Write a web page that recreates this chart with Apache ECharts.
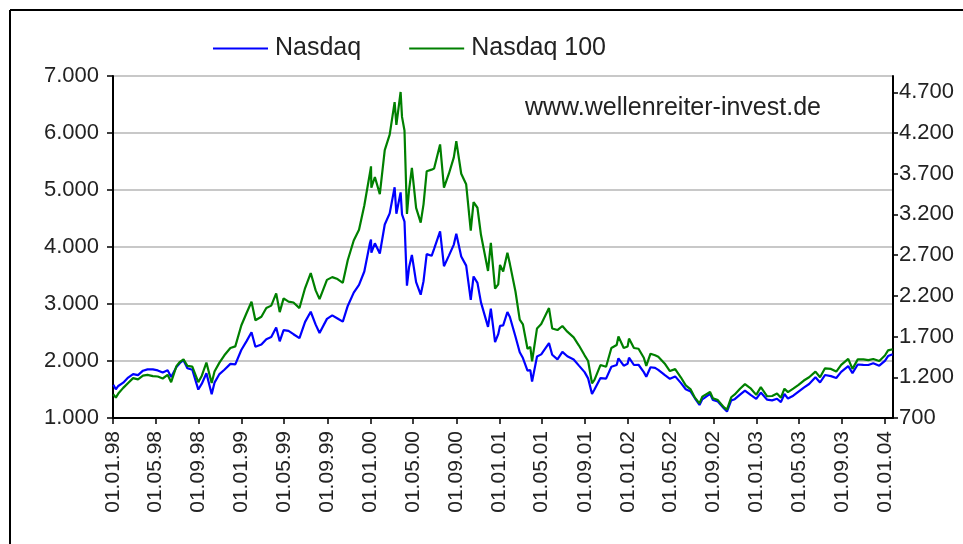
<!DOCTYPE html>
<html>
<head>
<meta charset="utf-8">
<script src="https://cdn.jsdelivr.net/npm/echarts@6/dist/echarts.min.js"></script>
<style>
  html, body { margin: 0; padding: 0; background: #fff; }
  #chart { width: 963px; height: 544px; }
</style>
</head>
<body>
<div id="chart"></div>
<script>
// Stichtage (ungefähr halbmonatlich, Extrempunkte extra)
const dates = [
  '1998-01-02','1998-01-09','1998-01-16','1998-01-30','1998-02-13','1998-02-27','1998-03-13','1998-03-27',
  '1998-04-09','1998-04-24','1998-05-08','1998-05-22','1998-06-05','1998-06-15','1998-06-30','1998-07-10',
  '1998-07-20','1998-07-31','1998-08-14','1998-08-31','1998-09-10','1998-09-23','1998-10-08','1998-10-16',
  '1998-10-30','1998-11-13','1998-11-30','1998-12-14','1998-12-31',
  '1999-01-15','1999-01-29','1999-02-09','1999-02-26','1999-03-12','1999-03-26','1999-04-09','1999-04-19',
  '1999-04-30','1999-05-14','1999-05-28','1999-06-14','1999-06-30','1999-07-16','1999-07-30','1999-08-10',
  '1999-08-31','1999-09-15','1999-09-30','1999-10-15','1999-10-29','1999-11-15','1999-11-30','1999-12-15',
  '1999-12-31',
  '2000-01-03','2000-01-04','2000-01-14','2000-01-28','2000-02-11','2000-02-25','2000-03-10','2000-03-15',
  '2000-03-27','2000-03-31','2000-04-07','2000-04-14','2000-04-20','2000-04-28','2000-05-10','2000-05-23',
  '2000-05-31','2000-06-09','2000-06-23','2000-06-30','2000-07-17','2000-07-28','2000-08-11','2000-08-25',
  '2000-09-01','2000-09-15','2000-09-29','2000-10-12','2000-10-20','2000-10-31','2000-11-10','2000-11-30',
  '2000-12-08','2000-12-20','2000-12-29',
  '2001-01-03','2001-01-12','2001-01-24','2001-01-31','2001-02-16','2001-02-28','2001-03-09','2001-03-22',
  '2001-03-30','2001-04-04','2001-04-18','2001-04-30','2001-05-22','2001-05-31','2001-06-15','2001-06-29',
  '2001-07-13','2001-07-31','2001-08-15','2001-08-31','2001-09-10','2001-09-21','2001-09-28','2001-10-15',
  '2001-10-31','2001-11-15','2001-11-30','2001-12-05','2001-12-20','2001-12-31',
  '2002-01-04','2002-01-18','2002-01-31','2002-02-15','2002-02-22','2002-03-06','2002-03-19','2002-03-28',
  '2002-04-15','2002-04-30','2002-05-15','2002-05-31','2002-06-14','2002-06-28','2002-07-10','2002-07-23',
  '2002-07-31','2002-08-22','2002-08-30','2002-09-13','2002-09-30','2002-10-09','2002-10-21','2002-10-31',
  '2002-11-15','2002-11-29','2002-12-16','2002-12-31',
  '2003-01-13','2003-01-31','2003-02-14','2003-02-28','2003-03-11','2003-03-21','2003-03-31','2003-04-15',
  '2003-04-30','2003-05-15','2003-05-30','2003-06-17','2003-06-30','2003-07-14','2003-07-31','2003-08-15',
  '2003-08-29','2003-09-18','2003-09-30','2003-10-15','2003-10-31','2003-11-14','2003-11-28','2003-12-15',
  '2003-12-31','2004-01-09','2004-01-22'
];

// Nasdaq Composite (linke Achse)
const nasdaq = [
  1581,1503,1562,1620,1710,1771,1752,1830,
  1854,1852,1835,1798,1836,1718,1895,1966,
  2014,1872,1847,1499,1602,1784,1419,1620,
  1771,1847,1950,1940,2193,
  2349,2505,2250,2288,2382,2420,2588,2345,
  2543,2528,2470,2400,2686,2864,2638,2490,
  2739,2800,2746,2690,2966,3200,3336,3570,
  4069,
  4131,3901,4064,3887,4395,4590,5048,4583,
  4958,4573,4446,3321,3643,3860,3385,3164,
  3400,3875,3845,3966,4274,3663,3849,4042,
  4234,3835,3673,3074,3483,3370,3028,2598,
  2917,2333,2471,
  2616,2626,2859,2773,2425,2152,2052,1830,
  1840,1638,2079,2116,2313,2110,2029,2161,
  2084,2027,1919,1805,1695,1423,1499,1700,
  1690,1900,1931,2046,1918,1950,
  2059,1930,1934,1805,1724,1890,1880,1845,
  1756,1688,1730,1616,1505,1463,1346,1229,
  1328,1423,1315,1291,1172,1114,1309,1330,
  1411,1479,1400,1336,
  1447,1321,1310,1338,1279,1421,1341,1391,
  1464,1534,1596,1715,1623,1754,1735,1702,
  1810,1909,1787,1939,1932,1930,1960,1918,
  2003,2087,2120
];

// Nasdaq 100 (rechte Achse)
const ndx100 = [
  990,950,1000,1070,1130,1190,1175,1220,
  1230,1215,1210,1185,1230,1140,1337,1390,
  1420,1340,1330,1140,1220,1380,1130,1270,
  1380,1470,1560,1580,1836,
  1990,2127,1900,1944,2050,2080,2230,2000,
  2169,2130,2118,2050,2296,2480,2267,2160,
  2396,2430,2406,2360,2637,2880,3013,3310,
  3708,
  3790,3529,3660,3450,3990,4180,4580,4300,
  4704,4398,4230,3207,3500,3773,3280,3100,
  3324,3730,3750,3763,4060,3530,3700,3900,
  4100,3700,3570,3000,3350,3282,2950,2506,
  2850,2290,2341,
  2580,2500,2728,2593,2250,1908,1850,1550,
  1573,1395,1800,1855,2050,1800,1780,1830,
  1760,1690,1590,1470,1400,1126,1169,1350,
  1329,1560,1597,1700,1560,1577,
  1675,1560,1550,1440,1340,1490,1470,1452,
  1370,1277,1300,1200,1100,1051,950,880,
  962,1020,943,920,832,804,955,990,
  1060,1116,1060,984,
  1080,967,970,1000,950,1060,1018,1060,
  1106,1160,1200,1270,1201,1310,1303,1270,
  1353,1426,1303,1420,1419,1410,1424,1400,
  1468,1530,1545
];

const tickLabels = [
  '01.01.98','01.05.98','01.09.98','01.01.99','01.05.99','01.09.99','01.01.00','01.05.00',
  '01.09.00','01.01.01','01.05.01','01.09.01','01.01.02','01.05.02','01.09.02','01.01.03',
  '01.05.03','01.09.03','01.01.04'
];
const rightTicks = [700, 1200, 1700, 2200, 2700, 3200, 3700, 4200, 4700];

const FONT = '"Liberation Sans", Arial, sans-serif';

function isoToTime(s) {
  const p = s.split('-').map(Number);
  return new Date(p[0], p[1] - 1, p[2]).getTime();
}
function tickToTime(s) {
  const p = s.split('.').map(Number);
  return new Date(2000 + p[2] - (p[2] > 50 ? 100 : 0), p[1] - 1, p[0]).getTime();
}
const tickTimes = tickLabels.map(tickToTime);
const times = dates.map(isoToTime);

// Tausenderpunkt
function fmtNum(v) {
  return String(v).replace(/\B(?=(\d{3})+(?!\d))/g, '.');
}

const chart = echarts.init(document.getElementById('chart'), null, { renderer: 'canvas' });

const option = {
  animation: false,
  backgroundColor: '#fff',
  textStyle: { fontFamily: FONT },
  legend: {
    left: 208,
    top: 31,
    icon: 'rect',
    itemWidth: 55,
    itemHeight: 2,
    itemGap: 48,
    textStyle: { fontSize: 25, color: '#222', fontFamily: FONT, padding: [0, 0, 0, 2] },
    data: ['Nasdaq', 'Nasdaq 100']
  },
  grid: { left: 113, right: 70, top: 76, bottom: 126 },
  xAxis: {
    type: 'value',
    min: isoToTime('1998-01-01'),
    max: isoToTime('2004-01-23'),
    axisLine: { lineStyle: { color: '#000', width: 2 } },
    axisTick: {
      show: true,
      length: 6,
      customValues: tickTimes,
      lineStyle: { color: '#000', width: 1.5 }
    },
    axisLabel: {
      customValues: tickTimes,
      rotate: 90,
      margin: 13,
      fontSize: 21,
      color: '#222',
      fontFamily: FONT,
      formatter: function (v) {
        const i = tickTimes.indexOf(v);
        return i >= 0 ? tickLabels[i] : '';
      }
    },
    splitLine: { show: false }
  },
  yAxis: [
    {
      type: 'value',
      min: 1000,
      max: 7000,
      interval: 1000,
      position: 'left',
      axisLine: { show: true, lineStyle: { color: '#000', width: 2 } },
      axisTick: { show: true, length: 6, lineStyle: { color: '#000', width: 1.5 } },
      axisLabel: {
        margin: 14,
        fontSize: 22,
        color: '#222',
        fontFamily: FONT,
        formatter: fmtNum
      },
      splitLine: { show: true, lineStyle: { color: '#c8c8c8', width: 2 } }
    },
    {
      type: 'value',
      min: 700,
      max: 4900,
      position: 'right',
      axisLine: { show: true, lineStyle: { color: '#000', width: 2 } },
      axisTick: { show: true, length: 5, customValues: rightTicks, lineStyle: { color: '#000', width: 1.5 } },
      axisLabel: {
        customValues: rightTicks,
        margin: 6,
        fontSize: 22,
        color: '#222',
        fontFamily: FONT,
        formatter: fmtNum
      },
      splitLine: { show: false }
    }
  ],
  series: [
    {
      name: 'Nasdaq',
      type: 'line',
      yAxisIndex: 0,
      showSymbol: false,
      color: '#0000ff',
      lineStyle: { color: '#0000ff', width: 2.2 },
      data: times.map((t, i) => [t, nasdaq[i]]),
      z: 2
    },
    {
      name: 'Nasdaq 100',
      type: 'line',
      yAxisIndex: 1,
      showSymbol: false,
      color: '#008000',
      lineStyle: { color: '#008000', width: 2.2 },
      data: times.map((t, i) => [t, ndx100[i]]),
      z: 3
    }
  ],
  graphic: [
    {
      type: 'line',
      shape: { x1: 10, y1: 10, x2: 10, y2: 544 },
      style: { stroke: '#000', lineWidth: 2 }
    },
    {
      type: 'line',
      shape: { x1: 10, y1: 10, x2: 963, y2: 10 },
      style: { stroke: '#000', lineWidth: 2 }
    },
    {
      type: 'text',
      left: 525,
      top: 96,
      style: {
        text: 'www.wellenreiter-invest.de',
        font: '25px "Liberation Sans", Arial, sans-serif',
        fill: '#222'
      }
    }
  ]
};

chart.setOption(option);
</script>
</body>
</html>
